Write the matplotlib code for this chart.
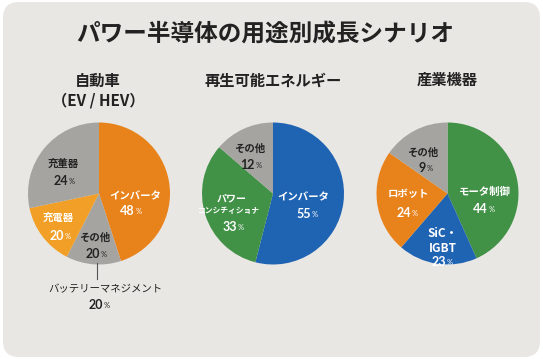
import matplotlib
matplotlib.use('Agg')
import matplotlib.pyplot as plt
from matplotlib.patches import FancyBboxPatch

plt.rcParams['font.family'] = ['Noto Sans CJK JP', 'DejaVu Sans']

#===== data (slice shares as drawn, printed percentages as labelled) =====
title = 'パワー半導体の用途別成長シナリオ'

auto_names = ['インバータ', 'その他', '充電器', '充董器']
auto_shares = [45.0, 12.5, 14.2, 28.3]
auto_pcts = ['48', '20', '20', '24']

renew_names = ['インバータ', 'パワー\nコンシチィショナ', 'その他']
renew_shares = [54.0, 32.3, 13.7]
renew_pcts = ['55', '33', '12']

ind_names = ['モータ制御', 'SiC・\nIGBT', 'ロボット', 'その他']
ind_shares = [43.3, 18.0, 23.4, 15.3]
ind_pcts = ['44', '23', '24', '9']

battery_name = 'バッテリーマネジメント'
battery_pct = '20'

#===== colours =====
ORANGE = '#e8821b'
LORANGE = '#f19f27'
GRAY = '#a6a4a0'
BLUE = '#1f63b3'
GREEN = '#419147'
DARK = '#222222'
BG = '#e9e7e3'

W, H = 543, 359
fig = plt.figure(figsize=(W / 100, H / 100), dpi=100)
fig.patch.set_facecolor('white')
ax = fig.add_axes([0, 0, 1, 1])


def py(y):
    # pixel row (top = 0) -> data y
    return H - y


card = FancyBboxPatch((3, py(357)), 537, 355, boxstyle='round,pad=0,rounding_size=16',
                      facecolor=BG, edgecolor='none', zorder=0)
ax.add_patch(card)

ax.text(265, py(35), title, ha='center', va='center', fontsize=17, weight='bold', color=DARK)

R = 71
centers = [(99, 193.5), (273, 193.5), (447.5, 193.5)]
pie_colors = [[ORANGE, GRAY, LORANGE, GRAY], [BLUE, GREEN, GRAY], [GREEN, BLUE, ORANGE, GRAY]]
all_shares = [auto_shares, renew_shares, ind_shares]

for (cx, cy), shares, cols in zip(centers, all_shares, pie_colors):
    ax.pie(shares, colors=cols, startangle=90, counterclock=False, radius=R,
           center=(cx, py(cy)), wedgeprops=dict(linewidth=0))

# subtitles
ax.text(98, py(81), '自動車', ha='center', va='center', fontsize=11, weight='bold', color=DARK)
ax.text(98, py(100), '（EV / HEV）', ha='center', va='center', fontsize=11, weight='bold', color=DARK)
ax.text(273, py(81), '再生可能エネルギー', ha='center', va='center', fontsize=11, weight='bold', color=DARK)
ax.text(447, py(80), '産業機器', ha='center', va='center', fontsize=11, weight='bold', color=DARK)


def name(x, y, s, color, size=7.5, weight='bold', ls=1.2):
    ax.text(x, py(y), s, ha='center', va='center', fontsize=size, weight=weight,
            color=color, linespacing=ls)


def pct(x, y, num, color, size=9):
    ax.text(x + 3, py(y), num, ha='right', va='center', fontsize=size, weight='bold',
            color=color, family=['Lato', 'Noto Sans CJK JP'])
    ax.text(x + 3.5, py(y + 0.5), '%', ha='left', va='center', fontsize=size * 0.6,
            color=color, family=['Lato', 'Noto Sans CJK JP'])


# pie 1 labels
name(135, 196, auto_names[0], 'white')
pct(132, 211, auto_pcts[0], 'white')
name(95, 238, auto_names[1], DARK)
pct(97, 254, auto_pcts[1], DARK)
name(58, 218, auto_names[2], 'white')
pct(61, 236, auto_pcts[2], 'white')
name(63, 164, auto_names[3], DARK)
pct(65, 181, auto_pcts[3], DARK)

ax.plot([97, 97], [py(263), py(279)], color='#555555', lw=0.8)
name(105, 289, battery_name, DARK, weight='normal')
pct(100, 305, battery_pct, DARK)

# pie 2 labels
name(303, 197, renew_names[0], 'white')
pct(308, 214, renew_pcts[0], 'white')
name(232, 198, 'パワー', 'white', size=7.2)
name(229, 210, 'コンシチィショナ', 'white', size=5.6)
pct(234, 227, renew_pcts[1], 'white')
name(250, 149, renew_names[2], DARK)
pct(252, 165, renew_pcts[2], DARK)

# pie 3 labels
name(443, 241, ind_names[1], 'white', size=8.5, ls=1.25)
pct(443, 262, ind_pcts[1], 'white')
name(485, 192, ind_names[0], 'white')
pct(485, 209, ind_pcts[0], 'white')
name(408, 194, ind_names[2], 'white')
pct(408, 213, ind_pcts[2], 'white')
name(423, 153, ind_names[3], DARK)
pct(423, 168, ind_pcts[3], DARK)

ax.set_xlim(0, W)
ax.set_ylim(0, H)
ax.set_aspect('auto')
ax.axis('off')

fig.savefig('out.png', dpi=100, facecolor=fig.get_facecolor())
